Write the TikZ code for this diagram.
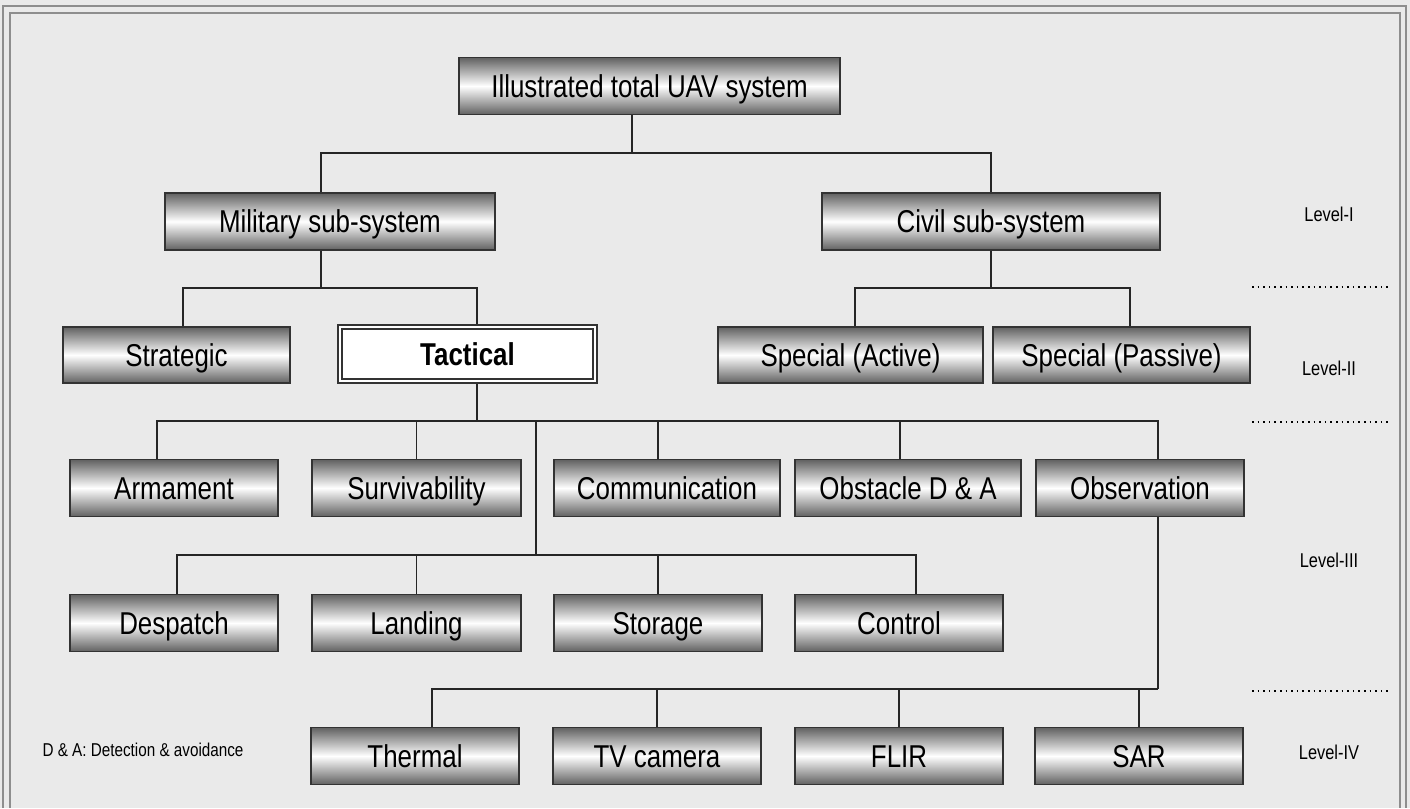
\documentclass[tikz,border=0pt]{standalone}
\usepackage{fontspec}
\setmainfont{Liberation Sans}[FakeStretch=0.82]
\usetikzlibrary{positioning}
\definecolor{paper}{HTML}{EAEAEA}
\definecolor{frame}{HTML}{8E8E8E}

\begin{document}
\begin{tikzpicture}[
  x=0.5pt, y=-0.5pt,
  box/.style={draw=black!80, line width=0.9pt, top color=black!62, bottom color=black!62, middle color=white, inner sep=0pt, minimum height=28.5pt, text height=11.3pt, text depth=0pt, font=\fontsize{15.8}{18}\selectfont},
  focus/.style={draw=black!80, line width=0.8pt, double=white, double distance=1.4pt, fill=white, inner sep=0pt, outer sep=1.5pt, minimum height=27pt, text height=11.3pt, text depth=0pt, font=\fontsize{15.8}{18}\selectfont\bfseries},
  link/.style={draw=black!85, line width=0.8pt},
  lvl/.style={font=\fontsize{10}{12}\selectfont},
  sep/.style={dotted, line width=0.8pt}
]
% paper and frame
\fill[paper] (0,0) rectangle (1410,808);
\draw[frame, line width=1pt] (3,808) -- (3,6) -- (1406,6) -- (1406,808);
\draw[frame, line width=1pt] (10,808) -- (10,13) -- (1400,13) -- (1400,808);

% top and level I
\node[box, minimum width=190.5pt] (uav) at (649.5,86) {Illustrated total UAV system};
\node[box, minimum width=165pt] (mil) at (330,221.5) {Military sub-system};
\node[box, minimum width=169pt] (civ) at (991,221.5) {Civil sub-system};

% level II
\node[box, minimum width=113.5pt, minimum height=28pt] (strat) at (176.5,355) {Strategic};
\node[focus, minimum width=127.5pt] (tact) at (467.5,354) {Tactical};
\node[box, minimum width=132.5pt, minimum height=28pt] (spa) at (850.5,355) {Special (Active)};
\node[box, minimum width=128.5pt, minimum height=28pt] (spp) at (1121.5,355) {Special (Passive)};

% level III
\node[box, minimum width=104pt] (arm) at (174,488) {Armament};
\node[box, minimum width=104.5pt, right=16.1pt of arm] (surv) {Survivability};
\node[box, minimum width=113pt, right=15.6pt of surv] (comm) {Communication};
\node[box, minimum width=113pt, right=6.6pt of comm] (obst) {Obstacle D \& A};
\node[box, minimum width=104pt, right=6.6pt of obst] (obs) {Observation};

\node[box, minimum width=104pt] (desp) at (174,623) {Despatch};
\node[box, minimum width=104.5pt, right=16.1pt of desp] (land) {Landing};
\node[box, minimum width=104pt, right=15.6pt of land] (stor) {Storage};
\node[box, minimum width=104pt, right=15.6pt of stor] (ctrl) {Control};

% level IV
\node[box, minimum width=104pt] (therm) at (415,756) {Thermal};
\node[box, minimum width=104pt, right=16.1pt of therm] (tv) {TV camera};
\node[box, minimum width=104pt, right=16.1pt of tv] (flir) {FLIR};
\node[box, minimum width=104pt, right=15.1pt of flir] (sar) {SAR};

% buses
\coordinate (b1) at (632,153);
\coordinate (b2) at (321,288);
\coordinate (b3) at (991,288);
\coordinate (b4) at (477,421);
\coordinate (b5) at (536,555);
\coordinate (b6) at (1158,689);

\draw[link] (b1 |- uav.south) -- (b1);
\draw[link] ([xshift=-4.5pt]mil.north) |- (b1) -| (civ.north);

\draw[link] (b2 |- mil.south) -- (b2);
\draw[link] ([xshift=3.25pt]strat.north) |- (b2) -| (b4 |- tact.north);
\draw[link] (civ) -- (b3);
\draw[link] ([xshift=2.25pt]spa.north) |- (b3) -| ([xshift=4.25pt]spp.north);

\draw[link] (b4 |- tact.south) -- (b4);
\draw[link] ([xshift=-8.5pt]arm.north) |- (b4) -| (b6 |- obs.north);
\draw[link] (surv) -- (surv |- b4);
\draw[link] ([xshift=-4.5pt]comm.north) -- ([xshift=-4.5pt]comm.north |- b4);
\draw[link] ([xshift=-4pt]obst.north) -- ([xshift=-4pt]obst.north |- b4);

\draw[link] (b5 |- b4) -- (b5);
\draw[link] ([xshift=1.5pt]desp.north) |- (b5) -| ([xshift=8.5pt]ctrl.north);
\draw[link] (land) -- (land |- b5);
\draw[link] (stor) -- (stor |- b5);

\draw[link] (b6 |- obs.south) -- (b6);
\draw[link] ([xshift=8.5pt]therm.north) |- (b6);
\foreach \n in {tv,flir,sar}
  \draw[link] (\n) -- (\n |- b6);

% levels
\foreach \y/\t/\n in {214/Level-I/lvone, 368/Level-II/lvtwo, 560/Level-III/lvthree, 752/Level-IV/lvfour}
  \node[lvl] (\n) at (1329,\y) {\t};
\foreach \y in {287,422,691}
  \draw[sep] (1252,\y) -- (1388,\y);

\node[font=\fontsize{9.3}{11}\selectfont] (note) at (143,750) {D \& A: Detection \& avoidance};
\end{tikzpicture}
\end{document}
